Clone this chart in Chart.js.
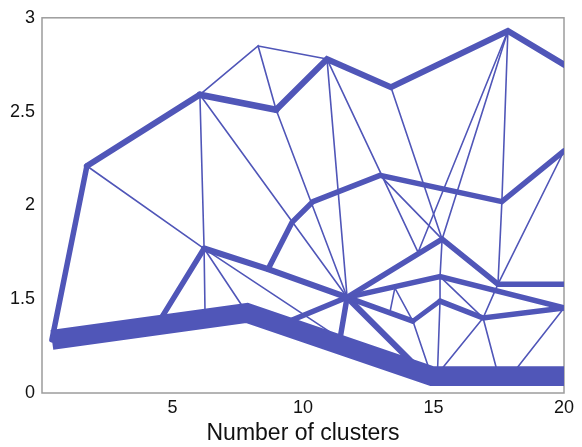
<!DOCTYPE html>
<html>
<head>
<meta charset="utf-8">
<script src="https://cdn.jsdelivr.net/npm/chart.js@4"></script>
<style>
  html, body { margin: 0; padding: 0; background: #fff; }
  #wrap { width: 582px; height: 447px; }
</style>
</head>
<body>
<div id="wrap"><canvas id="c" width="582" height="447"></canvas></div>
<script>
// Cluster nodes: position on the "number of clusters" axis and the mean value
const nodeX = [0.38, 1.72, 6.05, 8.28, 8.97, 10.92, 13.37, 17.85, 20,
               6.21, 4.41, 7.85, 14.94, 20, 6.25, 11.69, 8.66, 9.58, 10.38,
               12.95, 17.62, 20, 15.33, 17.47, 20, 15.25, 20, 14.21, 15.25,
               16.9, 14.41, 11.42, 14.18, 9.31, 13.33, 13.52, 15.15, 17.47, 18.01, 14.9];
const nodeY = [0.85, 2.21, 2.59, 2.85, 2.51, 2.78, 2.63, 2.93, 2.75,
               1.77, 1.09, 1.28, 0.27, 0.27, 1.18, 1.51, 1.66, 1.91, 2.02,
               2.16, 2.02, 2.29, 1.82, 1.58, 1.58, 1.62, 1.36, 1.15, 1.47,
               1.20, 1.75, 0.87, 0.49, 1.12, 1.29, 1.56, 0.30, 0.30, 0.30, 0.30];

// Links between clusters and the number of members they carry
const edgeFrom = [0, 11, 12,
                  0, 1, 2, 4, 5, 6, 7,
                  9, 9, 16,
                  16, 17, 18, 19, 20,
                  15, 22, 23,
                  15, 25,
                  15, 27, 28, 29,
                  15, 15, 33,
                  1, 2, 3, 3, 2, 9, 9, 2, 4, 5, 5, 6, 7, 7, 19, 7, 20, 21, 9,
                  34, 35, 22, 25, 28, 27, 25, 29, 29, 26, 23];
const edgeTo   = [11, 12, 13,
                  1, 2, 4, 5, 6, 7, 8,
                  10, 16, 15,
                  17, 18, 19, 20, 21,
                  22, 23, 24,
                  25, 26,
                  27, 28, 29, 26,
                  31, 32, 15,
                  9, 3, 4, 5, 9, 14, 11, 15, 15, 15, 30, 22, 30, 22, 22, 20, 23, 23, 31,
                  35, 27, 25, 28, 36, 39, 29, 37, 36, 38, 29];
const edgeWeight = [15, 15, 15,
                    4, 4.5, 5, 4.5, 4.5, 4.5, 4.5,
                    4, 4.5, 4.5,
                    4, 4, 4, 4, 4,
                    4, 4, 4,
                    4, 4,
                    4, 3.5, 4, 4,
                    4, 4.5, 4,
                    1, 1, 1, 1, 1, 1, 1, 1, 1, 1, 1, 1, 1, 1, 1, 1, 1, 1, 1,
                    1, 1, 1, 1, 1, 1, 1, 1, 1, 1, 1];

const xTicks = [5, 10, 15, 20];
const yTicks = [0, 1.5, 2, 2.5, 3];

const LINE_COLOR = '#5056b8';
const FONT = "'Liberation Sans', Arial, sans-serif";

// Value axis with a break: 0–1.5 is squeezed into the lower quarter
const BREAK_VALUE = 1.5;
const LOWER_SHARE = 0.25;
class BrokenLinearScale extends Chart.LinearScale {
  static id = 'brokenLinear';
  static defaults = Chart.LinearScale.defaults;
  toDecimal(v) {
    if (v <= BREAK_VALUE) return (v - this.min) / (BREAK_VALUE - this.min) * LOWER_SHARE;
    return LOWER_SHARE + (v - BREAK_VALUE) / (this.max - BREAK_VALUE) * (1 - LOWER_SHARE);
  }
  getPixelForValue(v) {
    if (v === null || v === undefined) return NaN;
    return this.getPixelForDecimal(this.toDecimal(v));
  }
  getValueForPixel(p) {
    const d = this.getDecimalForPixel(p);
    if (d <= LOWER_SHARE) return this.min + d / LOWER_SHARE * (BREAK_VALUE - this.min);
    return BREAK_VALUE + (d - LOWER_SHARE) / (1 - LOWER_SHARE) * (this.max - BREAK_VALUE);
  }
}
Chart.register(BrokenLinearScale);

// Join consecutive links of equal weight into one polyline
const paths = [];
for (let i = 0; i < edgeFrom.length; i++) {
  const last = paths[paths.length - 1];
  if (last && last.weight === edgeWeight[i] && last.nodes[last.nodes.length - 1] === edgeFrom[i]) {
    last.nodes.push(edgeTo[i]);
  } else {
    paths.push({ weight: edgeWeight[i], nodes: [edgeFrom[i], edgeTo[i]] });
  }
}

const datasets = paths.map(p => ({
  data: p.nodes.map(n => ({ x: nodeX[n], y: nodeY[n] })),
  showLine: true,
  borderColor: LINE_COLOR,
  backgroundColor: LINE_COLOR,
  borderWidth: 0.3 + 1.3 * p.weight,
  borderCapStyle: p.weight >= 10 ? 'butt' : 'round',
  borderJoinStyle: 'miter',
  pointRadius: 0,
  pointHoverRadius: 0,
  tension: 0,
  fill: false,
  clip: 0,
  order: p.weight >= 10 ? 0 : (p.weight >= 3 ? 1 : 2)
}));

const framePlugin = {
  id: 'frame',
  beforeDatasetsDraw(chart) {
    const { ctx, chartArea: a } = chart;
    ctx.save();
    ctx.strokeStyle = '#9c9c9c';
    ctx.lineWidth = 1.5;
    ctx.strokeRect(a.left, a.top, a.right - a.left, a.bottom - a.top);
    ctx.restore();
  }
};

new Chart(document.getElementById('c'), {
  type: 'scatter',
  data: { datasets },
  plugins: [framePlugin],
  options: {
    responsive: false,
    animation: false,
    events: [],
    layout: { padding: { top: 13, right: 18, bottom: 0, left: 0 } },
    plugins: { legend: { display: false }, tooltip: { enabled: false } },
    scales: {
      x: {
        type: 'linear',
        min: 0,
        max: 20,
        grid: { display: false, drawTicks: false },
        border: { display: false },
        ticks: {
          font: { family: FONT, size: 18 },
          color: '#111',
          padding: 4,
          maxRotation: 0,
          autoSkip: false,
          callback: v => String(v)
        },
        afterBuildTicks: s => { s.ticks = xTicks.map(v => ({ value: v })); },
        afterFit: s => { s.height = 54; },
        title: {
          display: true,
          text: 'Number of clusters',
          font: { family: FONT, size: 23 },
          color: '#111',
          padding: { top: 0, bottom: 0 }
        }
      },
      y: {
        type: 'brokenLinear',
        min: 0,
        max: 3,
        grid: { display: false, drawTicks: false },
        border: { display: false },
        ticks: {
          font: { family: FONT, size: 18 },
          color: '#111',
          padding: 7,
          autoSkip: false,
          callback: v => String(v)
        },
        afterBuildTicks: s => { s.ticks = yTicks.map(v => ({ value: v })); },
        afterFit: s => { s.width = 42; }
      }
    }
  }
});
</script>
</body>
</html>
